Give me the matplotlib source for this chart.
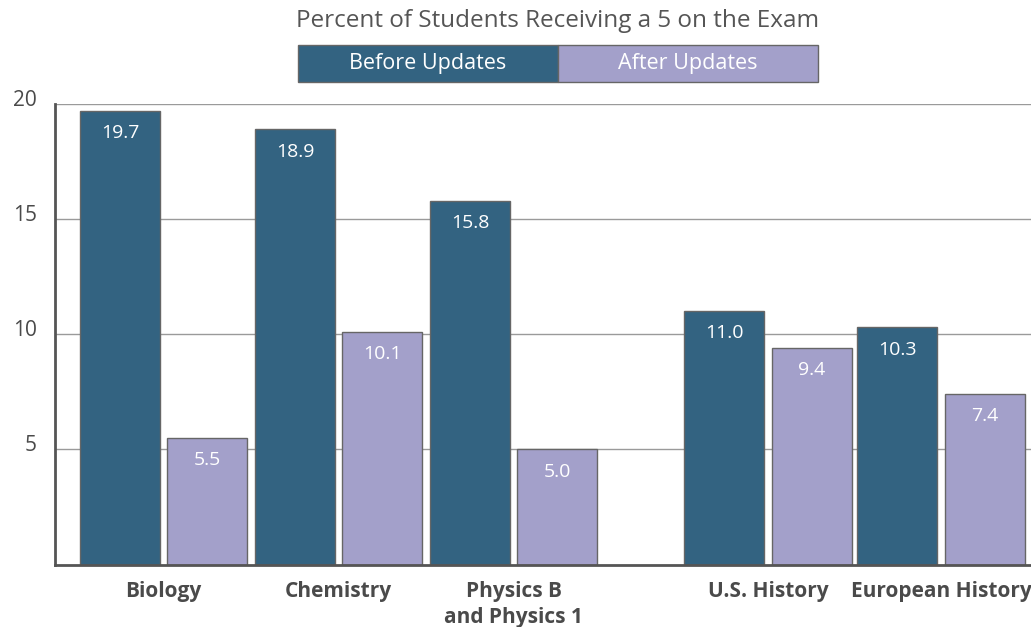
import matplotlib
matplotlib.use('Agg')
import matplotlib.pyplot as plt
import matplotlib.transforms as mtransforms
from matplotlib.patches import Rectangle
import numpy as np

plt.rcParams['font.family'] = ['Open Sans', 'DejaVu Sans']

categories = ['Biology', 'Chemistry', 'Physics B\nand Physics 1',
              'U.S. History', 'European History']
before = [19.7, 18.9, 15.8, 11.0, 10.3]
after = [5.5, 10.1, 5.0, 9.4, 7.4]
# group centres; extra gap between the sciences and the histories
positions = [0, 1, 2, 3.454, 4.443]
series_names = ['Before Updates', 'After Updates']
title = 'Percent of Students Receiving a 5 on the Exam'

DARK = '#336381'
LAVENDER = '#a3a0ca'
EDGE = '#666666'
TEXT = '#4a4a4a'

fig = plt.figure(figsize=(10.31, 6.27), dpi=100)
ax = fig.add_axes([55 / 1031, 1 - 564.5 / 627, 1 - 55 / 1031, (564.5 - 104) / 627])

width = 0.457
off = 0.249
x = np.array(positions)
b1 = ax.bar(x - off, before, width, color=DARK, edgecolor=EDGE, lw=1, zorder=3)
b2 = ax.bar(x + off, after, width, color=LAVENDER, edgecolor=EDGE, lw=1, zorder=3)

for bars, vals in ((b1, before), (b2, after)):
    for rect, v in zip(bars, vals):
        ax.annotate(f'{v:.1f}', (rect.get_x() + rect.get_width() / 2, v),
                    xytext=(0, -16), textcoords='offset points',
                    ha='center', va='center', color='white', fontsize=14,
                    zorder=4)

ax.set_xlim(-0.62, 4.957)
ax.set_ylim(0, 20)
ax.set_yticks([5, 10, 15, 20])
ax.set_yticklabels(['5', '10', '15', '20'], fontsize=15, color=TEXT)
ax.tick_params(axis='y', length=0, pad=13)
shift = mtransforms.ScaledTranslation(0, 6 / 100, fig.dpi_scale_trans)
for lab in ax.get_yticklabels():
    lab.set_transform(lab.get_transform() + shift)

ax.set_xticks(positions)
ax.set_xticklabels(categories, fontsize=15, fontweight='bold', color=TEXT,
                   linespacing=1.3)
ax.tick_params(axis='x', length=0, pad=12)

ax.grid(axis='y', color='#9a9a9a', lw=1, zorder=0)
for s in ('top', 'right'):
    ax.spines[s].set_visible(False)
for s in ('left', 'bottom'):
    ax.spines[s].set_color('#555555')
    ax.spines[s].set_linewidth(2)
    ax.spines[s].set_zorder(5)

fig.text(558 / 1031, 1 - 21 / 627, title, ha='center', va='center',
         fontsize=17.5, color='#555555')

# legend as two adjoining boxes
lx, ly, lw_, lh = 298 / 1031, 1 - 82 / 627, 260 / 1031, 37 / 627
for i, (name, col) in enumerate(zip(series_names, [DARK, LAVENDER])):
    fig.patches.append(Rectangle((lx + i * lw_, ly), lw_, lh, transform=fig.transFigure,
                                 facecolor=col, edgecolor=EDGE, lw=1))
    fig.text(lx + i * lw_ + lw_ / 2, ly + lh / 2, name, ha='center', va='center',
             fontsize=15.5, color='white')

fig.savefig('out.png', dpi=100)
